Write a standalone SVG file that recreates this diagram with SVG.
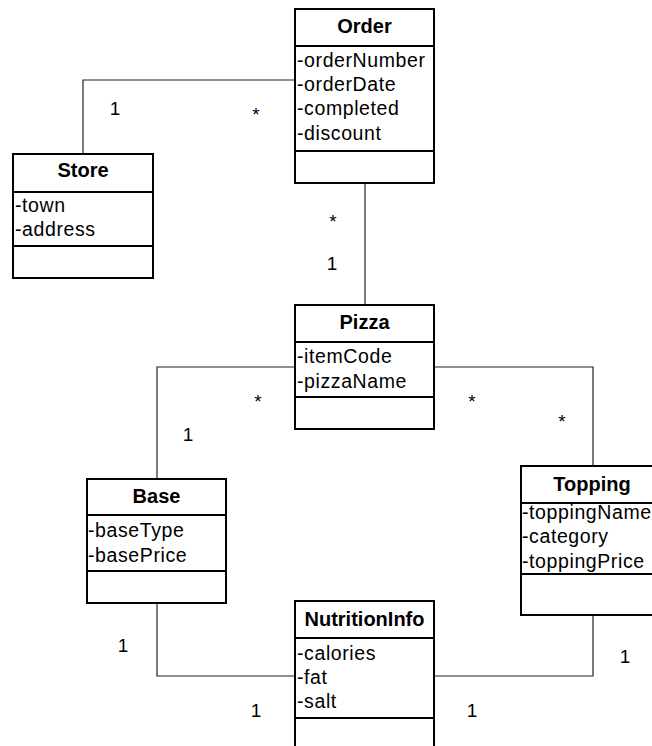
<svg xmlns="http://www.w3.org/2000/svg" width="652" height="746" viewBox="0 0 652 746">
<style>
.box{fill:#fff;stroke:#000;stroke-width:2}
.sep{stroke:#000;stroke-width:2}
.conn{fill:none;stroke:#222;stroke-width:1.2}
.title{font-family:"Liberation Sans",Arial,sans-serif;font-size:20px;font-weight:bold;text-anchor:middle;fill:#000}
.attr{font-family:"Liberation Sans",Arial,sans-serif;font-size:19.5px;letter-spacing:0.6px;fill:#000}
.mult{font-family:"Liberation Sans",Arial,sans-serif;font-size:19px;text-anchor:middle;fill:#000}
</style>
<rect width="652" height="746" fill="#fff"/>
<g id="connectors">
<polyline class="conn" points="83,154 83,80 295,80"/>
<line class="conn" x1="365" y1="183" x2="365" y2="305"/>
<polyline class="conn" points="295,367 157,367 157,479"/>
<polyline class="conn" points="434,367 593,367 593,466"/>
<polyline class="conn" points="157,603 157,676 295,676"/>
<polyline class="conn" points="593,615 593,676 434,676"/>
<text class="mult" x="115" y="115">1</text>
<text class="mult" x="256" y="121">*</text>
<text class="mult" x="333" y="228">*</text>
<text class="mult" x="332" y="270">1</text>
<text class="mult" x="258" y="408">*</text>
<text class="mult" x="188" y="441">1</text>
<text class="mult" x="472" y="408">*</text>
<text class="mult" x="562" y="428">*</text>
<text class="mult" x="625" y="663">1</text>
<text class="mult" x="123" y="652">1</text>
<text class="mult" x="256" y="717">1</text>
<text class="mult" x="472" y="717">1</text>
</g>
<g id="Order">
<rect class="box" x="295" y="9" width="139" height="174"/>
<line class="sep" x1="295" y1="46" x2="434" y2="46"/>
<line class="sep" x1="295" y1="151" x2="434" y2="151"/>
<text class="title" x="364.5" y="33">Order</text>
<text class="attr" x="297" y="67">-orderNumber</text>
<text class="attr" x="297" y="91">-orderDate</text>
<text class="attr" x="297" y="115">-completed</text>
<text class="attr" x="297" y="140">-discount</text>
</g>
<g id="Store">
<rect class="box" x="13" y="154" width="140" height="124"/>
<line class="sep" x1="13" y1="192" x2="153" y2="192"/>
<line class="sep" x1="13" y1="246" x2="153" y2="246"/>
<text class="title" x="83" y="177">Store</text>
<text class="attr" x="15" y="212">-town</text>
<text class="attr" x="15" y="236">-address</text>
</g>
<g id="Pizza">
<rect class="box" x="295" y="305" width="139" height="124"/>
<line class="sep" x1="295" y1="342" x2="434" y2="342"/>
<line class="sep" x1="295" y1="397" x2="434" y2="397"/>
<text class="title" x="364.5" y="329">Pizza</text>
<text class="attr" x="297" y="363">-itemCode</text>
<text class="attr" x="297" y="388">-pizzaName</text>
</g>
<g id="Base">
<rect class="box" x="87" y="479" width="139" height="124"/>
<line class="sep" x1="87" y1="515" x2="226" y2="515"/>
<line class="sep" x1="87" y1="571" x2="226" y2="571"/>
<text class="title" x="156.5" y="503">Base</text>
<text class="attr" x="88" y="537">-baseType</text>
<text class="attr" x="88" y="562">-basePrice</text>
</g>
<g id="Topping">
<rect class="box" x="521" y="466" width="141" height="149"/>
<line class="sep" x1="521" y1="503" x2="662" y2="503"/>
<line class="sep" x1="521" y1="574" x2="662" y2="574"/>
<text class="title" x="592" y="491">Topping</text>
<text class="attr" x="522" y="519">-toppingName</text>
<text class="attr" x="522" y="543">-category</text>
<text class="attr" x="522" y="568">-toppingPrice</text>
</g>
<g id="NutritionInfo">
<rect class="box" x="295" y="601" width="139" height="160"/>
<line class="sep" x1="295" y1="638" x2="434" y2="638"/>
<line class="sep" x1="295" y1="718" x2="434" y2="718"/>
<text class="title" x="364.5" y="626">NutritionInfo</text>
<text class="attr" x="297" y="660">-calories</text>
<text class="attr" x="297" y="684">-fat</text>
<text class="attr" x="297" y="708">-salt</text>
</g>
</svg>
